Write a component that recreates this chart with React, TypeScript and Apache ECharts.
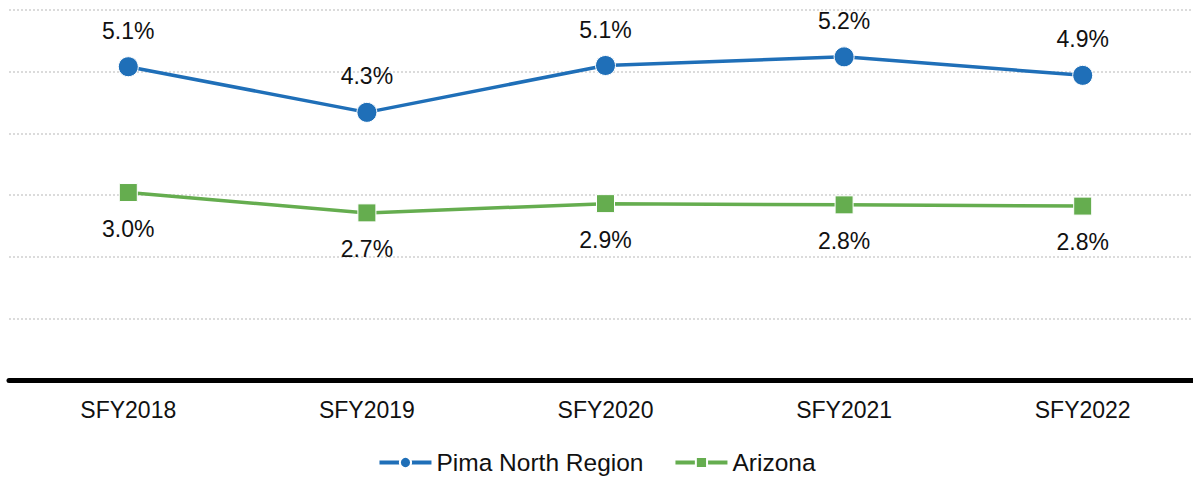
import React, { useEffect, useRef } from "react";
import * as echarts from "echarts";

const categories = ["SFY2018", "SFY2019", "SFY2020", "SFY2021", "SFY2022"];
const pimaNorth = [5.08, 4.34, 5.1, 5.24, 4.94];
const arizona = [3.04, 2.71, 2.86, 2.84, 2.82];
const seriesNames = ["Pima North Region", "Arizona"];

export default function App() {
  const ref = useRef<HTMLDivElement>(null);
  useEffect(() => {
    if (!ref.current) return;
    const chart = echarts.init(ref.current, undefined, { renderer: "svg" });
    const font = "Liberation Sans, Arial, sans-serif";
    chart.setOption({
      animation: false,
      textStyle: { fontFamily: font },
      grid: {
        left: 9,
        top: 10,
        width: 1193,
        height: 370,
        containLabel: false,
        outerBoundsMode: "none",
      },
      legend: {
        top: 445,
        left: "center",
        itemWidth: 52,
        itemHeight: 14,
        itemGap: 30,
        lineStyle: { width: 4 },
        textStyle: { fontSize: 24.5, color: "#111", fontFamily: font },
        data: seriesNames,
      },
      xAxis: {
        type: "category",
        data: categories,
        boundaryGap: true,
        axisLine: { show: true, lineStyle: { color: "#000", width: 5 } },
        axisTick: { show: false },
        axisLabel: { fontSize: 23, color: "#111", margin: 18, fontFamily: font },
        splitLine: { show: false },
      },
      yAxis: {
        type: "value",
        min: 0,
        max: 6,
        interval: 1,
        axisLine: { show: false },
        axisTick: { show: false },
        axisLabel: { show: false },
        splitLine: {
          show: true,
          lineStyle: { color: "#cfcfcf", type: [2, 2], width: 1.5 },
        },
      },
      series: [
        {
          name: seriesNames[0],
          type: "line",
          data: pimaNorth,
          symbol: "circle",
          symbolSize: 20,
          color: "#1F6FB8",
          lineStyle: { width: 3.5, color: "#1F6FB8" },
          itemStyle: { color: "#1F6FB8", borderColor: "#fff", borderWidth: 1 },
          label: {
            show: true,
            position: "top",
            distance: 14,
            fontSize: 23,
            color: "#111",
            fontFamily: font,
            formatter: (p: any) => p.value.toFixed(1) + "%",
          },
        },
        {
          name: seriesNames[1],
          type: "line",
          data: arizona,
          symbol: "rect",
          symbolSize: 18,
          color: "#65AD4F",
          lineStyle: { width: 3.5, color: "#65AD4F" },
          itemStyle: { color: "#65AD4F", borderColor: "#fff", borderWidth: 1 },
          label: {
            show: true,
            position: "bottom",
            distance: 15,
            fontSize: 23,
            color: "#111",
            fontFamily: font,
            formatter: (p: any) => p.value.toFixed(1) + "%",
          },
        },
      ],
    });
    return () => chart.dispose();
  }, []);
  return (
    <div
      ref={ref}
      style={{ position: "absolute", left: 0, top: 0, width: 1193, height: 501 }}
    />
  );
}
